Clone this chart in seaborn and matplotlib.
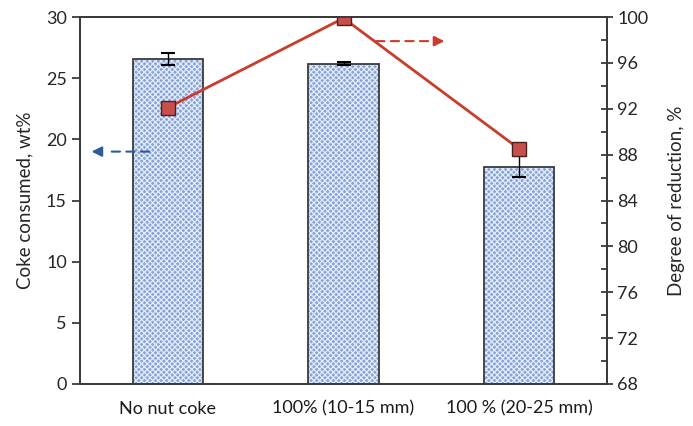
import numpy as np
import matplotlib
matplotlib.use("Agg")
import matplotlib.pyplot as plt
import seaborn as sns

categories = ["No nut coke", "100% (10-15 mm)", "100 % (20-25 mm)"]
coke_consumed = [26.6, 26.2, 17.75]
coke_err = [0.5, 0.1, 0.85]
reduction = [92.1, 99.9, 88.5]

sns.set_theme(style="white")
plt.rcParams["font.family"] = ["Lato", "DejaVu Sans"]
plt.rcParams["hatch.linewidth"] = 0.9

pos = np.arange(len(categories))
fig, ax = plt.subplots(figsize=(6.93, 4.26), dpi=100)
fig.subplots_adjust(left=0.1154, right=0.876, top=0.960, bottom=0.0986)

# checkered fill, then the outline on top
sns.barplot(x=categories, y=coke_consumed, color="#86a4da", width=0.4,
            errorbar=None, saturation=1, linewidth=0, ax=ax)
for p in ax.patches:
    p.set_hatch("xxxxxx")
    p.set_edgecolor("#e4ecf8")
sns.barplot(x=categories, y=coke_consumed, fill=False, width=0.4,
            errorbar=None, edgecolor="#3a3a3a", linewidth=1.3, ax=ax)
ax.errorbar(pos, coke_consumed, yerr=coke_err, fmt="none", ecolor="black",
            elinewidth=1, capsize=5, capthick=1.5)

ax.set_xlim(-0.5, 2.5)
ax.set_ylim(0, 30)
ax.set_yticks(range(0, 31, 5))
ax.set_xticks(pos)
ax.set_xticklabels(categories)
ax.set_xticks([-0.5, 0.5, 1.5, 2.5], minor=True)
ax.tick_params(axis="x", which="major", length=0, labelsize=13, pad=12, colors="#1a1a1a")
ax.tick_params(axis="x", which="minor", direction="inout", length=8, width=1.3, color="#3a3a3a")
ax.tick_params(axis="y", direction="out", length=6, width=1.3, color="#3a3a3a",
               labelsize=13, left=True)
ax.set_ylabel("Coke consumed, wt%", fontsize=13.5, labelpad=9)
ax.set_xlabel("")

ax2 = ax.twinx()
sns.lineplot(x=pos, y=reduction, ax=ax2, color="#cc3b2c", linewidth=2,
             marker="s", markersize=10, markerfacecolor="#c8504a",
             markeredgecolor="#4a2020", markeredgewidth=1)
ax2.set_ylim(68, 100)
ax2.set_yticks(range(68, 101, 4))
ax2.set_yticks(range(70, 100, 4), minor=True)
ax2.tick_params(axis="y", which="major", direction="inout", length=8, width=1.3,
                color="#3a3a3a", labelsize=13, right=True)
ax2.tick_params(axis="y", which="minor", direction="in", length=4, width=1.3,
                color="#3a3a3a", right=True)
ax2.set_ylabel("Degree of reduction, %", fontsize=13.5, labelpad=14)
ax2.set_xlim(-0.5, 2.5)

for a in (ax, ax2):
    for s in a.spines.values():
        s.set_color("#3a3a3a")
        s.set_linewidth(1.3)

# dashed arrows pointing to the axis each series belongs to
ax.annotate("", xy=(-0.37, 19), xytext=(-0.09, 19),
            arrowprops=dict(arrowstyle="-", linestyle=(0, (4, 3)), color="#2f5b9a", lw=1.5))
ax.annotate("", xy=(-0.45, 19), xytext=(-0.37, 19),
            arrowprops=dict(arrowstyle="-|>", color="#2f5b9a", lw=1.5, mutation_scale=15))
ax2.annotate("", xy=(1.51, 97.9), xytext=(1.17, 97.9),
             arrowprops=dict(arrowstyle="-", linestyle=(0, (4, 3)), color="#cc3b2c", lw=1.5))
ax2.annotate("", xy=(1.59, 97.9), xytext=(1.51, 97.9),
             arrowprops=dict(arrowstyle="-|>", color="#cc3b2c", lw=1.5, mutation_scale=15))

fig.savefig("out.png", dpi=100)
